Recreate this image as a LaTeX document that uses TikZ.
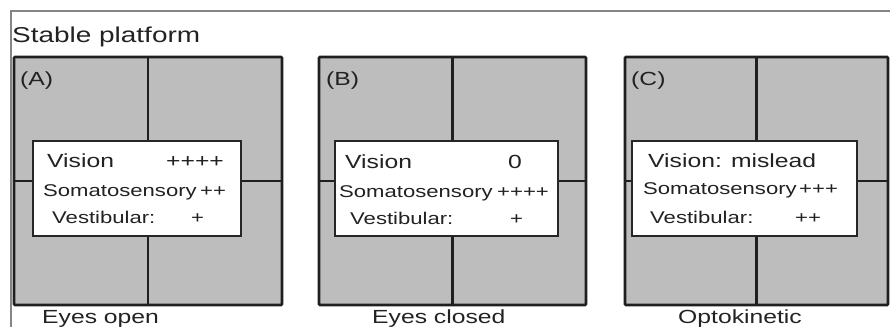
\documentclass[tikz,border=0pt]{standalone}
\usepackage{fontspec}
\usepackage{graphicx}
\setmainfont{Liberation Sans}
\newcommand{\hs}[1]{\scalebox{1.3}[1]{#1}}
\definecolor{panelgray}{HTML}{BDBDBD}
\definecolor{framegray}{HTML}{858585}
\definecolor{txtgray}{HTML}{222222}
\tikzset{
  panel/.style={draw=black!88, line width=2.6pt, fill=panelgray, minimum width=#1, minimum height=248pt, inner sep=0pt, rounded corners=1pt},
  divider/.style={draw=black!88, line width=2.4pt},
  infobox/.style={draw=black!85, line width=2pt, fill=white, minimum width=#1, minimum height=95pt, inner sep=0pt},
  txt/.style={anchor=base west, inner sep=0pt, text=txtgray},
  big/.style={txt, font=\fontsize{19}{22}\selectfont},
  mid/.style={txt, font=\fontsize{17}{20}\selectfont},
  ttl/.style={txt, font=\fontsize{21.5}{24}\selectfont},
}
\begin{document}
\begin{tikzpicture}[x=1pt,y=-1pt]
\useasboundingbox (0,0) rectangle (890,327);
% outer frame (top and left only)
\coordinate (ftl) at (11,11);
\coordinate (ftr) at (890,11);
\coordinate (fbl) at (11,327);
\draw[framegray, line width=2pt] (ftr) -- (ftl) -- (fbl);
\node[ttl] (title) at (12,42) {\hs{Stable platform}};

% panels
\node[panel=268pt] (pA) at (148,181) {};
\node[panel=267pt] (pB) at (452.5,181) {};
\node[panel=263pt] (pC) at (756.5,181) {};
\foreach \p in {pA,pB,pC}{
  \draw[divider] (\p.north) -- (\p.south);
  \draw[divider] (\p.west) -- (\p.east);
}

% info boxes
\node[infobox=208pt] (wA) at (137,188.5) {};
\node[infobox=223pt] (wB) at (446.5,188.5) {};
\node[infobox=225pt] (wC) at (744.5,188.5) {};

% panel letters
\node[big] (lA) at (20,85) {\hs{(A)}};
\node[big] (lB) at (326,85) {\hs{(B)}};
\node[big] (lC) at (631,85) {\hs{(C)}};

% box A
\node[big] (a1) at (47,167) {\hs{Vision}};
\node[big] (a1v) at (166,167) {\hs{++++}};
\node[mid] (a2) at (43,196) {\hs{Somatosensory}};
\node[mid] (a2v) at (200,196) {\hs{++}};
\node[mid] (a3) at (52,223) {\hs{Vestibular:}};
\node[mid] (a3v) at (191,223) {\hs{+}};

% box B
\node[big] (b1) at (345,168) {\hs{Vision}};
\node[big] (b1v) at (508,168) {\hs{0}};
\node[mid] (b2) at (339,197) {\hs{Somatosensory}};
\node[mid] (b2v) at (497,197) {\hs{++++}};
\node[mid] (b3) at (350,224) {\hs{Vestibular:}};
\node[mid] (b3v) at (510,224) {\hs{+}};

% box C
\node[big] (c1) at (648,167) {\hs{Vision: mislead}};
\node[mid] (c2) at (643,194) {\hs{Somatosensory}};
\node[mid] (c2v) at (799,194) {\hs{+++}};
\node[mid] (c3) at (650,223) {\hs{Vestibular:}};
\node[mid] (c3v) at (795,223) {\hs{++}};

% captions
\node[big] (capA) at (42,323) {\hs{Eyes open}};
\node[big] (capB) at (372,323) {\hs{Eyes closed}};
\node[big] (capC) at (678,323) {\hs{Optokinetic}};
\end{tikzpicture}
\end{document}
